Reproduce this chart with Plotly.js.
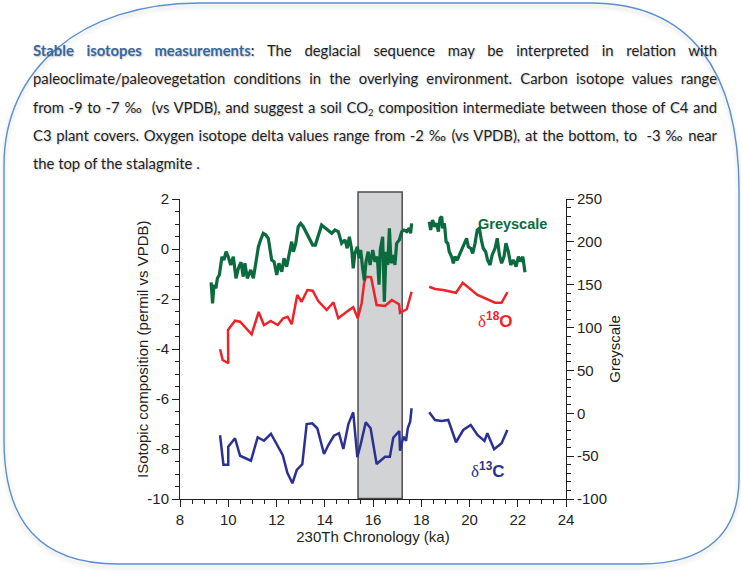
<!DOCTYPE html>
<html>
<head>
<meta charset="utf-8">
<script src="https://cdn.plot.ly/plotly-3.0.1.min.js"></script>
<style>
  html, body { margin:0; padding:0; background:#ffffff; }
  #wrap { position:relative; width:741px; height:572px; overflow:hidden; }
  #frame { position:absolute; left:0; top:0; z-index:0; }
  #chart { position:absolute; left:0; top:0; width:741px; height:572px; z-index:1; }
  #para { position:absolute; left:33px; top:36px; width:684px; z-index:2;
          font-family: Lato, "Noto Sans", sans-serif; font-size:14.8px; color:#1e1e1e;
          text-shadow: 1px 1px 1.5px rgba(0,0,0,0.22); }
  #para .ln { height:28.3px; line-height:28.3px; text-align:justify; text-align-last:justify; white-space:normal; }
  #para .ln.last { text-align-last:left; }
  #para .hl { color:#35689e; font-weight:bold; }
  #para sub { font-size:9.5px; line-height:0; vertical-align:-3px; }
</style>
</head>
<body>
<div id="wrap">
  <svg id="frame" width="741" height="572">
    <defs>
      <filter id="sh" x="-5%" y="-5%" width="110%" height="115%">
        <feDropShadow dx="0" dy="3" stdDeviation="2" flood-color="#000" flood-opacity="0.18"/>
      </filter>
    </defs>
    <path d="M 4,165 C 4,70 80,3 200,3 L 590,3 C 690,3 739,70 739,190 L 739,478 C 739,532 708,564 640,564 L 118,564 C 40,564 4,522 4,440 Z"
          fill="none" stroke="#5b8ed0" stroke-width="1.4" filter="url(#sh)"/>
  </svg>
  <div id="chart"></div>
  <div id="para">
    <div class="ln"><span class="hl">Stable isotopes measurements</span>: The deglacial sequence may be interpreted in relation with</div>
    <div class="ln">paleoclimate/paleovegetation conditions in the overlying environment. Carbon isotope values range</div>
    <div class="ln">from -9 to -7 ‰&nbsp; (vs VPDB), and suggest a soil CO<sub>2</sub> composition intermediate between those of C4 and</div>
    <div class="ln">C3 plant covers. Oxygen isotope delta values range from -2 ‰ (vs VPDB), at the bottom, to&nbsp; -3 ‰ near</div>
    <div class="ln last">the top of the stalagmite .</div>
  </div>
</div>
<script>
// ---- Data (ka) ----
const greyAge = [9.29,9.35,9.41,9.49,9.55,9.63,9.69,9.74,9.82,9.91,10.0,10.1,10.21,10.32,10.42,10.53,10.62,10.69,10.79,10.93,11.04,11.15,11.25,11.34,11.45,11.56,11.66,11.8,11.9,12.01,12.1,12.22,12.31,12.42,12.53,12.63,12.7,12.8,12.9,13.0,13.11,13.25,13.36,13.5,13.61,13.73,13.87,14.01,14.15,14.29,14.42,14.56,14.7,14.84,14.93,15.02,15.12,15.18,15.25,15.35,15.43,15.49,15.57,15.64,15.71,15.8,15.88,15.99,16.08,16.18,16.25,16.3,16.4,16.47,16.54,16.61,16.68,16.75,16.84,16.91,16.98,17.09,17.19,17.29,17.4,17.5,17.56,17.6,
  18.0,
  18.33,18.39,18.47,18.56,18.64,18.71,18.78,18.85,18.89,18.96,19.03,19.1,19.16,19.26,19.33,19.4,19.49,19.61,19.72,19.81,19.88,19.95,20.05,20.13,20.23,20.32,20.41,20.49,20.57,20.67,20.75,20.85,20.94,21.06,21.15,21.24,21.33,21.43,21.51,21.61,21.71,21.82,21.93,22.03,22.12,22.21,22.26,22.3];
const greyValue = [152.8,128.3,149.7,145.8,157.5,161.3,173,182.7,178.8,188.5,182.7,173,182.7,157.5,169.2,176.2,159.4,175,157.5,167.2,157.5,176.8,194.3,202.2,210,208,204.2,178.8,176.8,161.3,175,165.2,180.8,171,186.6,200.2,188.5,198.3,217.7,221.6,217.7,210,204.2,196.3,196.3,208,219.7,216.5,213.8,210,213.8,211.9,198.3,202.2,192.5,206,190.5,169.2,186.6,194.3,180.8,190.5,169.2,155,176.8,188.5,173,190.5,176.8,182.7,150,190.5,206,130.2,188.5,173,215.8,175,184.7,173,198.3,202.2,211.9,213.8,211.9,215.8,210,221.6,
  null,
  223.5,213.8,225.5,217.7,221.6,211.9,227.5,229.4,215.8,221.6,200.2,198.3,188.5,182.7,175,182.7,178.8,186.6,192.5,198.3,204.2,194.3,192.5,186.6,198.3,213.8,215.8,202.2,192.5,188.5,178.8,173,184.7,192.5,204.2,184.7,175,182.7,198.3,188.5,173,178.8,171,182.7,176.8,182.7,171,164.5];

const d18OAge = [9.66,9.77,10.0,9.99,10.28,10.49,10.97,11.26,11.48,11.76,12.05,12.28,12.46,12.63,12.86,13.04,13.28,13.5,13.73,14.08,14.36,14.56,14.91,15.18,15.37,15.53,15.63,15.71,15.92,16.15,16.5,16.78,17.08,17.12,17.4,17.6,
  18.0,
  18.33,18.57,18.91,19.44,19.72,20.33,21.06,21.33,21.57];
const d18OValue = [-4.01,-4.44,-4.57,-3.24,-2.87,-2.91,-3.41,-2.52,-3.05,-2.88,-3.04,-2.77,-2.71,-3.01,-1.84,-2.11,-1.64,-1.67,-2.08,-2.44,-2.13,-2.77,-2.51,-2.33,-2.77,-2.17,-1.37,-1.11,-1.13,-2.24,-2.28,-2.04,-2.21,-2.55,-2.41,-1.71,
  null,
  -1.51,-1.6,-1.64,-1.75,-1.35,-1.84,-2.15,-2.15,-1.73];

const d13CAge = [9.66,9.8,10.0,10.0,10.28,10.49,10.94,11.22,11.48,11.77,12.26,12.45,12.66,12.84,13.07,13.25,13.48,13.69,13.97,14.15,14.38,14.59,14.77,14.98,15.18,15.35,15.49,15.7,15.9,16.15,16.5,16.7,16.84,17.09,17.12,17.26,17.37,17.44,17.54,17.6,
  18.0,
  18.33,18.57,18.85,19.12,19.44,19.74,20.05,20.33,20.62,20.74,21.02,21.33,21.57];
const d13CValue = [-7.45,-8.63,-8.63,-7.91,-7.57,-8.27,-8.47,-7.53,-7.67,-7.39,-8.25,-8.95,-9.37,-8.84,-8.61,-7.0,-6.97,-7.17,-8.2,-7.84,-7.47,-7.37,-8.0,-7.0,-6.53,-8.33,-7.81,-6.93,-7.17,-8.6,-8.31,-8.31,-7.55,-7.28,-8.07,-7.51,-7.67,-7.17,-6.91,-6.37,
  null,
  -6.53,-6.84,-6.88,-6.84,-7.73,-7.24,-7.04,-7.44,-7.68,-7.37,-8.01,-7.77,-7.24];

// highlighted interval (ka)
const bandStart = 15.38, bandEnd = 17.21;

// tick labels
const leftTickVals = [-10,-8,-6,-4,-2,0,2];
const leftTickText = ['-10','-8','-6','-4','-2','0','2'];
const rightTickVals = [-100,-50,0,50,100,150,200,250];
const rightTickText = ['-100','-50','0','50','100','150','200','250'];
const xTickVals = [8,10,12,14,16,18,20,22,24];

const GREEN = '#0b6b3e', RED = '#ee2229', BLUE = '#2b3192', INK = '#231f20';
const FONT = 'Liberation Sans, Arial, Helvetica, sans-serif';

const traces = [
  { x: d13CAge, y: d13CValue, type:'scatter', mode:'lines', name:'δ13C',
    line:{color:BLUE, width:2.5}, connectgaps:false, yaxis:'y' },
  { x: d18OAge, y: d18OValue, type:'scatter', mode:'lines', name:'δ18O',
    line:{color:RED, width:2.5}, connectgaps:false, yaxis:'y' },
  { x: greyAge, y: greyValue, type:'scatter', mode:'lines', name:'Greyscale',
    line:{color:GREEN, width:3.2}, connectgaps:false, yaxis:'y2' }
];

const axisCommon = {
  showline:true, linecolor:INK, linewidth:1, ticks:'outside', ticklen:7, tickwidth:1,
  tickcolor:INK, showgrid:false, zeroline:false, fixedrange:true,
  tickfont:{family:FONT, size:15, color:INK}
};

const layout = {
  width:741, height:572,
  margin:{l:180, r:175, t:199, b:73, pad:0},
  paper_bgcolor:'rgba(0,0,0,0)', plot_bgcolor:'rgba(0,0,0,0)',
  showlegend:false,
  font:{family:FONT, color:INK, size:15},
  xaxis: Object.assign({}, axisCommon, {
    range:[8,24], tickmode:'array', tickvals:xTickVals,
    minor:{tick0:8, dtick:0.5, ticks:'outside', ticklen:4, tickcolor:INK, showgrid:false},
    title:{text:'230Th Chronology (ka)', font:{family:FONT, size:15, color:INK}, standoff:4}
  }),
  yaxis: Object.assign({}, axisCommon, {
    range:[-10,2], tickmode:'array', tickvals:leftTickVals, ticktext:leftTickText,
    minor:{tick0:0, dtick:0.5, ticks:'outside', ticklen:4, tickcolor:INK, showgrid:false}
  }),
  yaxis2: Object.assign({}, axisCommon, {
    range:[-100,250], overlaying:'y', side:'right', anchor:'x',
    tickmode:'array', tickvals:rightTickVals, ticktext:rightTickText,
    minor:{tick0:0, dtick:10, ticks:'outside', ticklen:4, tickcolor:INK, showgrid:false},
    title:{text:'Greyscale', font:{family:FONT, size:15, color:INK}, standoff:2.5}
  }),
  shapes:[
    { type:'rect', xref:'x', yref:'paper', x0:bandStart, x1:bandEnd, y0:0.002, y1:1.0233,
      fillcolor:'#d1d3d4', line:{color:'#4d4d4d', width:1.5}, layer:'below' }
  ],
  annotations:[
    { xref:'paper', yref:'paper', x:-0.0984, y:0.5, xanchor:'center', yanchor:'middle', textangle:-90,
      text:'ISotopic composition (permil vs VPDB)', showarrow:false,
      font:{family:FONT, size:15, color:INK} },
    { xref:'x', yref:'y', x:21.78, y:1.0, text:'<b>Greyscale</b>', showarrow:false,
      font:{family:FONT, size:14.5, color:GREEN} },
    { xref:'x', yref:'y', x:21.04, y:-2.84,
      text:'<span style="font-family:Liberation Serif;">δ</span><b><sup>18</sup>O</b>', showarrow:false,
      font:{family:FONT, size:17, color:RED} },
    { xref:'x', yref:'y', x:20.77, y:-8.84,
      text:'<span style="font-family:Liberation Serif;">δ</span><b><sup>13</sup>C</b>', showarrow:false,
      font:{family:FONT, size:17, color:BLUE} }
  ]
};

Plotly.newPlot('chart', traces, layout, {staticPlot:true, displayModeBar:false});
</script>
</body>
</html>
